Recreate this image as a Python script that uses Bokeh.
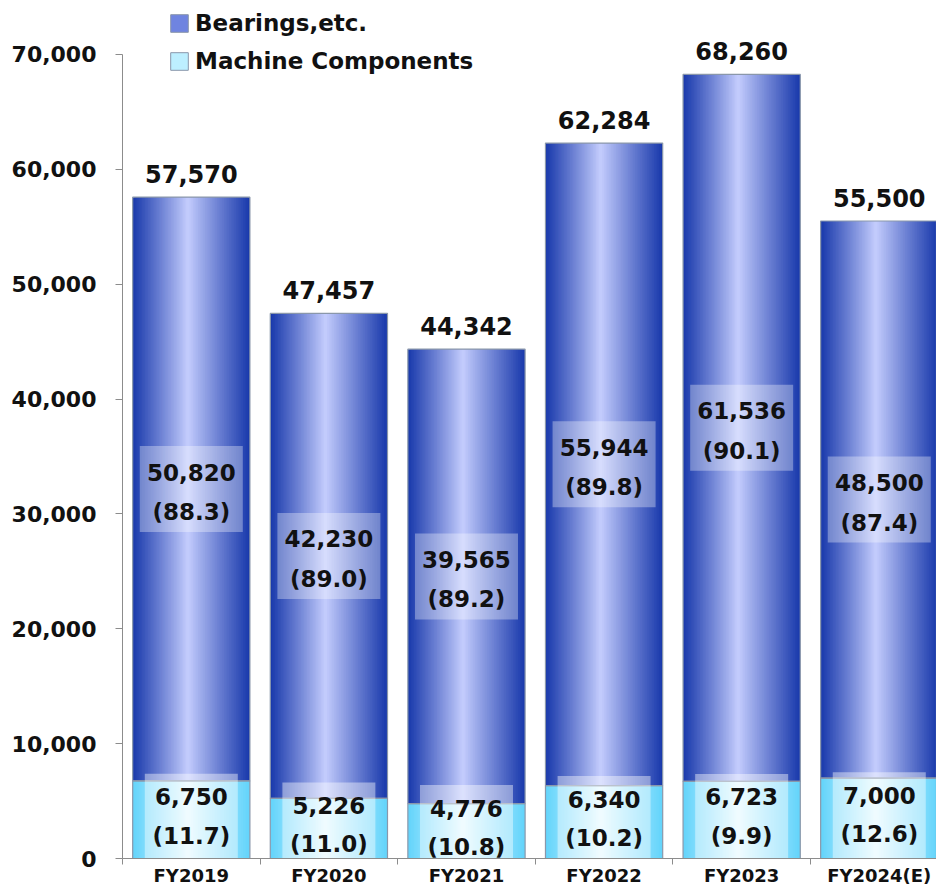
import numpy as np
from bokeh.plotting import figure
from bokeh.models import (ColumnDataSource, Range1d, FixedTicker,
                          NumeralTickFormatter, Legend, LegendItem)
from bokeh.core.properties import value
from bokeh.embed import file_html
from bokeh.resources import INLINE

# ---------------- data ----------------
categories = ["FY2019", "FY2020", "FY2021", "FY2022", "FY2023", "FY2024(E)"]
bearings = [50820, 42230, 39565, 55944, 61536, 48500]
machine = [6750, 5226, 4776, 6340, 6723, 7000]
totals = [57570, 47457, 44342, 62284, 68260, 55500]
bearings_pct = [88.3, 89.0, 89.2, 89.8, 90.1, 87.4]
machine_pct = [11.7, 11.0, 10.8, 10.2, 9.9, 12.6]
y_ticks = [0, 10000, 20000, 30000, 40000, 50000, 60000, 70000]
series_names = ["Bearings,etc.", "Machine Components"]

# ---------------- styling ----------------
FONT = "DejaVu Sans"
BAR_W = 0.852
N_STEPS = 36
CEN = 0.47
BEAR_L, BEAR_C, BEAR_R = (30, 62, 178), (200, 208, 255), (22, 54, 166)
MACH_L, MACH_C, MACH_R = (96, 210, 250), (232, 250, 255), (104, 214, 252)


def hexc(rgb):
    return "#%02x%02x%02x" % tuple(int(round(v)) for v in rgb)


def mix(a, b, s):
    return [a[k] + (b[k] - a[k]) * s for k in range(3)]


xs = np.arange(len(categories))
mach_bottom = [0] * len(categories)
mach_top = machine
bear_bottom = machine
bear_top = [m + b for m, b in zip(machine, bearings)]


def nested(bottoms, tops, left_c, center_c, right_c):
    """Nested rectangles, outermost first, to emulate a horizontal gradient."""
    d = dict(left=[], right=[], top=[], bottom=[], color=[])
    for i in range(len(categories)):
        x0 = xs[i] - BAR_W / 2
        for k in range(N_STEPS):
            s = k / N_STEPS
            l = x0 + s * CEN * BAR_W
            r = x0 + BAR_W - s * (1 - CEN) * BAR_W
            e = 1 - s
            col = mix(center_c, mix(left_c, right_c, 0.5), e ** 0.95)
            d["left"].append(l)
            d["right"].append(r)
            d["top"].append(tops[i])
            d["bottom"].append(bottoms[i])
            d["color"].append(hexc(col))
    return ColumnDataSource(d)


W, H = 936, 888
p = figure(width=W, height=H, output_backend="svg", toolbar_location=None,
           x_range=Range1d(-0.5, 5.416), y_range=Range1d(0, 74696),
           min_border_left=122, min_border_right=0, min_border_top=0,
           min_border_bottom=0)
p.outline_line_color = None
p.grid.grid_line_color = None
p.background_fill_color = "white"

# gradient bars
p.quad(left="left", right="right", top="top", bottom="bottom",
       source=nested(mach_bottom, mach_top, MACH_L, MACH_C, MACH_R),
       fill_color="color", line_color=None)
p.quad(left="left", right="right", top="top", bottom="bottom",
       source=nested(bear_bottom, bear_top, BEAR_L, BEAR_C, BEAR_R),
       fill_color="color", line_color=None)
# outlines
p.vbar(x=xs, width=BAR_W, top=mach_top, bottom=mach_bottom, fill_color=None,
       line_color="#8a97aa", line_width=1.2)
p.vbar(x=xs, width=BAR_W, top=bear_top, bottom=bear_bottom, fill_color=None,
       line_color="#8a97aa", line_width=1.2)

# label boxes
bear_mid = [(b + t) / 2 for b, t in zip(bear_bottom, bear_top)]
mach_mid = [(b + t) / 2 for b, t in zip(mach_bottom, mach_top)]
p.rect(x=xs, y=bear_mid, width=103, height=86, width_units="screen", height_units="screen",
       fill_color="white", fill_alpha=0.33, line_color=None)
p.rect(x=xs, y=mach_mid, width=93, height=92, width_units="screen", height_units="screen",
       fill_color="white", fill_alpha=0.42, line_color=None)

txt = dict(text_font=value(FONT), text_font_style="bold", text_font_size="23px",
           text_color="#111111", text_align="center", text_baseline="middle")
p.text(x=xs, y=bear_mid, text=[f"{v:,}" for v in bearings], y_offset=-17, **txt)
p.text(x=xs, y=bear_mid, text=[f"({v:.1f})" for v in bearings_pct], y_offset=23, **txt)
p.text(x=xs, y=mach_mid, text=[f"{v:,}" for v in machine], y_offset=-23, **txt)
p.text(x=xs, y=mach_mid, text=[f"({v:.1f})" for v in machine_pct], y_offset=16, **txt)
txt_top = dict(txt)
txt_top["text_baseline"] = "bottom"
txt_top["text_font_size"] = "24px"
p.text(x=xs, y=bear_top, text=[f"{v:,}" for v in totals], y_offset=-14, **txt_top)

# axes
ya = p.yaxis[0]
ya.ticker = FixedTicker(ticks=y_ticks)
ya.formatter = NumeralTickFormatter(format="0,0")
ya.bounds = (0, 70000)
ya.axis_line_color = "#8c8c8c"
ya.major_tick_line_color = "#8c8c8c"
ya.major_tick_out = 7
ya.major_tick_in = 0
ya.minor_tick_line_color = None
ya.major_label_text_font = FONT
ya.major_label_text_font_style = "bold"
ya.major_label_text_font_size = "22px"
ya.major_label_text_color = "#111111"
ya.major_label_standoff = 19

xa = p.xaxis[0]
xa.ticker = FixedTicker(ticks=list(xs), minor_ticks=[i - 0.5 for i in range(len(categories) + 1)])
xa.major_label_overrides = {int(i): c for i, c in zip(xs, categories)}
xa.axis_line_color = "#8c8c8c"
xa.major_tick_line_color = None
xa.major_tick_out = 0
xa.major_tick_in = 0
xa.minor_tick_line_color = "#8c8c8c"
xa.minor_tick_out = 6
xa.minor_tick_in = 0
xa.major_label_text_font = FONT
xa.major_label_text_font_style = "bold"
xa.major_label_text_font_size = "18px"
xa.major_label_text_color = "#111111"
xa.major_label_standoff = 0

# legend
r1 = p.quad(left=[np.nan], right=[np.nan], top=[np.nan], bottom=[np.nan],
            fill_color="#6f84e0", line_color="#8a97aa")
r2 = p.quad(left=[np.nan], right=[np.nan], top=[np.nan], bottom=[np.nan],
            fill_color="#bdefff", line_color="#8a97aa")
legend = Legend(items=[LegendItem(label=series_names[0], renderers=[r1]),
                       LegendItem(label=series_names[1], renderers=[r2])],
                location=(46, 784), orientation="vertical",
                background_fill_alpha=0, border_line_color=None,
                label_text_font=FONT, label_text_font_style="bold",
                label_text_font_size="23px", label_text_color="#111111",
                glyph_width=22, glyph_height=22, label_height=26, spacing=12,
                label_standoff=5, padding=0, margin=0)
p.add_layout(legend)

open("out.html", "w").write(file_html(p, INLINE))
